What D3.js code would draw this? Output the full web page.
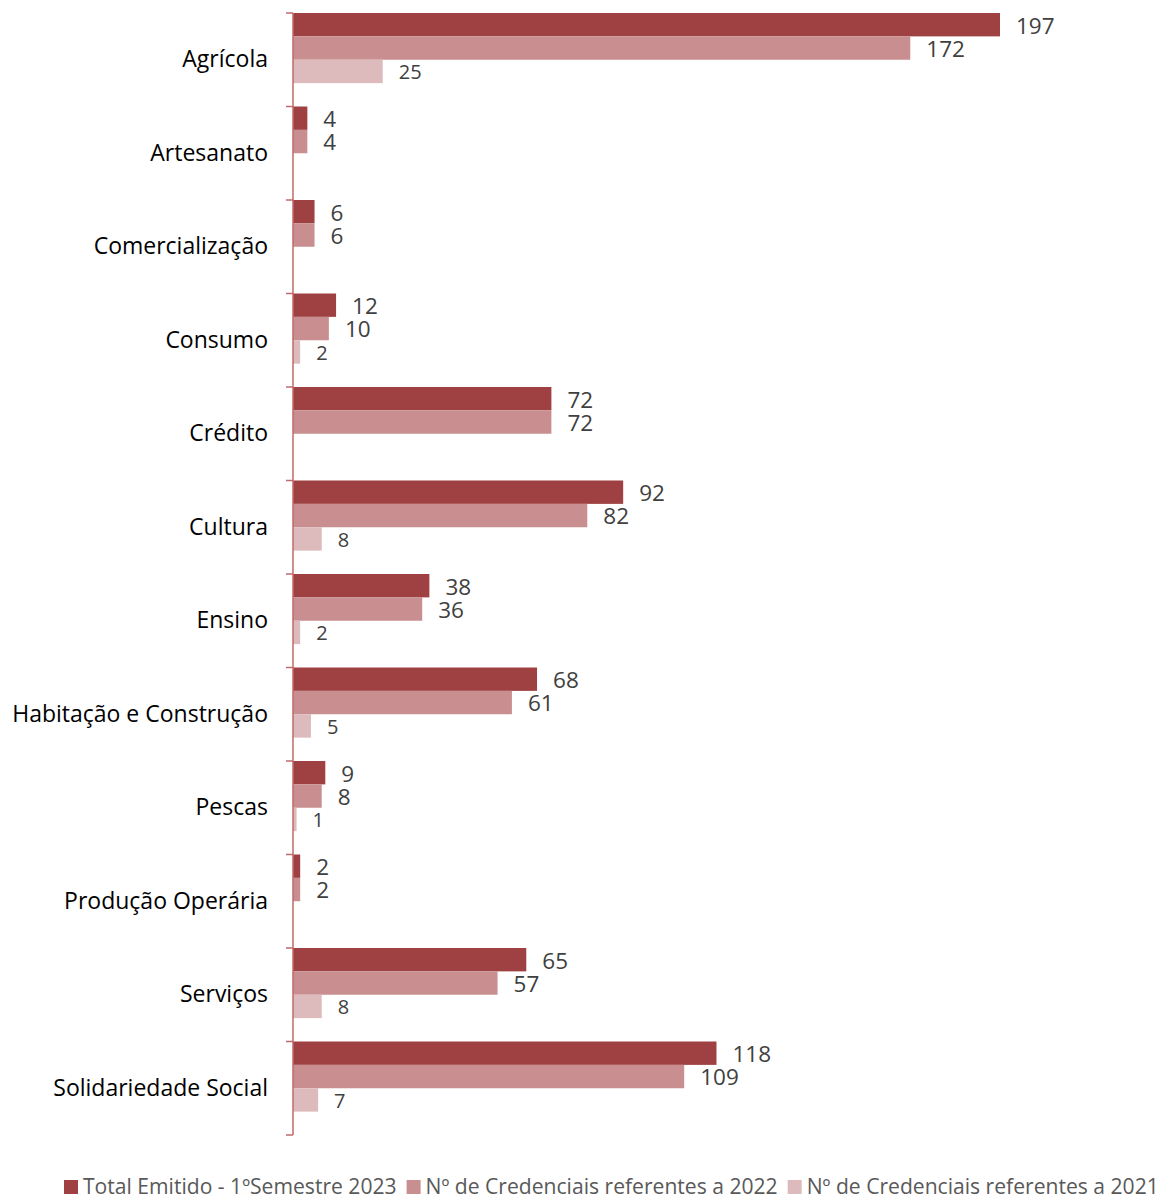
<!DOCTYPE html>
<html>
<head>
<meta charset="utf-8">
<script src="https://cdn.jsdelivr.net/npm/d3@7"></script>
<style>
  body { margin: 0; background: #fff; }
  text { font-family: "Open Sans", sans-serif; }
</style>
</head>
<body>
<div id="chart"></div>
<script>
var categories = ["Agrícola", "Artesanato", "Comercialização", "Consumo", "Crédito", "Cultura",
    "Ensino", "Habitação e Construção", "Pescas", "Produção Operária", "Serviços", "Solidariedade Social"];
var seriesNames = ["Total Emitido - 1ºSemestre 2023", "Nº de Credenciais referentes a 2022", "Nº de Credenciais referentes a 2021"];
var total2023 = [197, 4, 6, 12, 72, 92, 38, 68, 9, 2, 65, 118];
var cred2022 = [172, 4, 6, 10, 72, 82, 36, 61, 8, 2, 57, 109];
var cred2021 = [25, null, null, 2, null, 8, 2, 5, 1, null, 8, 7];
var colors = ["#9f4043", "#c98f90", "#ddbbbd"];

var width = 1160, height = 1201;
var svg = d3.select("#chart").append("svg")
    .attr("width", width)
    .attr("height", height);

var y = d3.scaleBand()
    .domain(categories)
    .range([13, 1135]);

var x = d3.scaleLinear()
    .domain([0, 200])
    .range([293, 293 + 707 * 200 / 197]);

var series = [total2023, cred2022, cred2021];
var barH = y.bandwidth() * 0.25;

// bars + labels
series.forEach(function (vals, s) {
    var rows = categories.map(function (c, i) { return { cat: c, v: vals[i] }; })
        .filter(function (d) { return d.v != null; });

    svg.selectAll(".bar" + s)
        .data(rows)
        .enter()
        .append("rect")
        .attr("x", x(0))
        .attr("y", function (d) { return y(d.cat) + s * barH; })
        .attr("width", function (d) { return x(d.v) - x(0); })
        .attr("height", barH)
        .attr("fill", colors[s]);

    svg.selectAll(".lbl" + s)
        .data(rows)
        .enter()
        .append("text")
        .attr("x", function (d) { return x(d.v) + 16; })
        .attr("y", function (d) { return y(d.cat) + s * barH + barH / 2 + 1; })
        .attr("dy", "0.35em")
        .style("font-size", s == 2 ? "20px" : "22.5px")
        .style("fill", "#404040")
        .text(function (d) { return d.v; });
});

// axis
var axis = d3.axisLeft(y).tickSize(0).tickPadding(25);
var gAxis = svg.append("g")
    .attr("transform", "translate(" + x(0) + ",0)")
    .call(axis);
gAxis.select(".domain").remove();
gAxis.selectAll("text")
    .style("font-size", "23px")
    .style("fill", "#000")
    .style("font-family", "'Open Sans', sans-serif");

svg.append("line")
    .attr("x1", x(0)).attr("x2", x(0))
    .attr("y1", 13).attr("y2", 1135)
    .attr("stroke", "#c0696a")
    .attr("stroke-width", 1.5);

var tickYs = categories.map(function (c) { return y(c); }).concat([1135]);
svg.selectAll(".tick-mark")
    .data(tickYs)
    .enter()
    .append("line")
    .attr("x1", x(0) - 7).attr("x2", x(0))
    .attr("y1", function (d) { return d; })
    .attr("y2", function (d) { return d; })
    .attr("stroke", "#c0696a")
    .attr("stroke-width", 1.5);

// legend
var legend = svg.append("g").attr("transform", "translate(64,1187)");
var lx = 0;
seriesNames.forEach(function (name, s) {
    var g = legend.append("g").attr("transform", "translate(" + lx + ",0)");
    g.append("rect")
        .attr("x", 0).attr("y", -7)
        .attr("width", 14).attr("height", 14)
        .attr("fill", colors[s]);
    var t = g.append("text")
        .attr("x", 19)
        .attr("dy", "0.35em")
        .style("font-size", "21.1px")
        .style("fill", "#595959")
        .text(name);
    lx += 19 + t.node().getComputedTextLength() + 10;
});
</script>
</body>
</html>
